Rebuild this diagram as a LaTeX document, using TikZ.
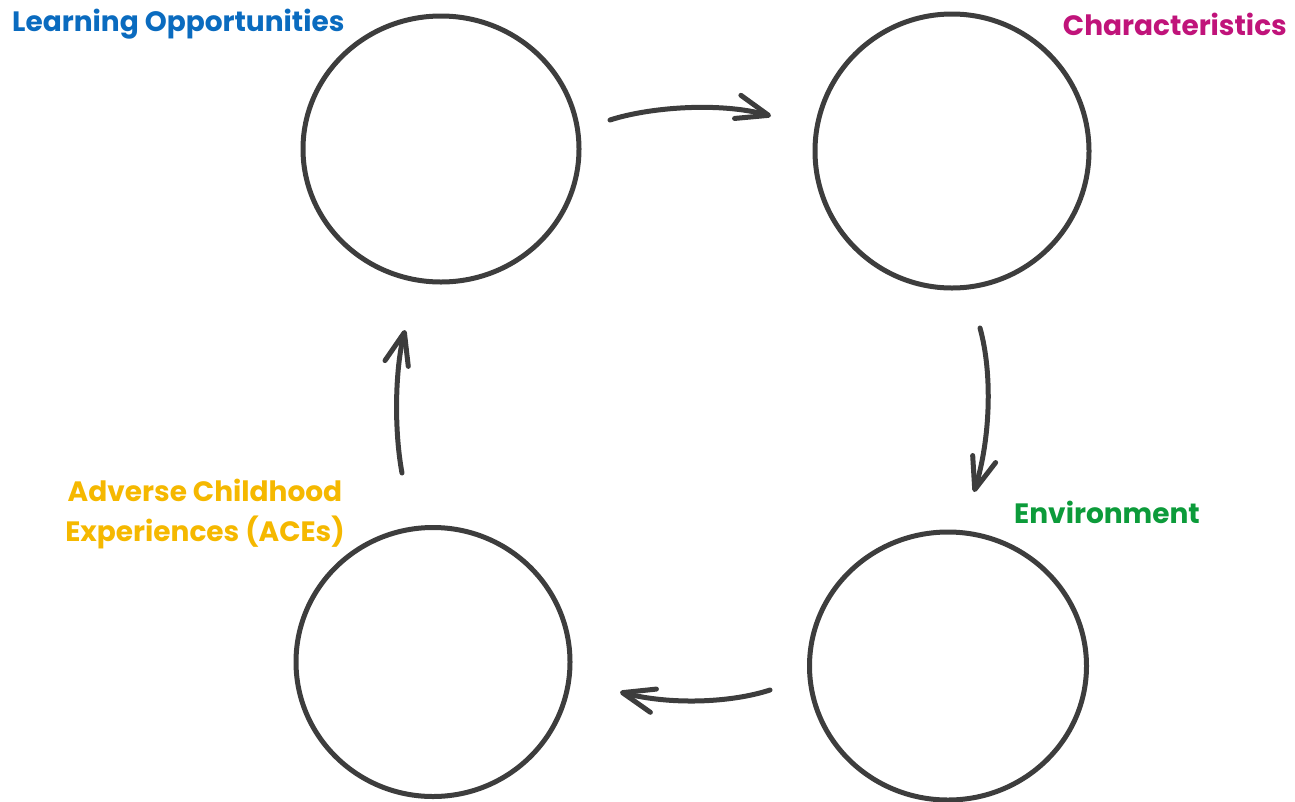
\documentclass[tikz,border=0pt]{standalone}
\usepackage{fontspec}
\setmainfont{Poppins}
\usetikzlibrary{arrows.meta,shapes.geometric}
\definecolor{ink}{HTML}{3D3D3D}
\definecolor{cblue}{HTML}{0A6BBF}
\definecolor{cpink}{HTML}{C0137A}
\definecolor{cyellow}{HTML}{F5B800}
\definecolor{cgreen}{HTML}{0C9B3A}
\tikzset{
  ring/.style={draw=ink, line width=5pt, ellipse, inner sep=0pt},
  flow/.style={draw=ink, line width=5pt, line cap=round,
    -{Straight Barb[length=32pt,width=24pt,round]}},
  lbl/.style={font=\bfseries\fontsize{28}{40}\selectfont, inner sep=0pt, align=center}
}
\begin{document}
\begin{tikzpicture}[x=1pt,y=-1pt]
\useasboundingbox (0,0) rectangle (1295,801);
\node[ring, minimum width=276pt, minimum height=266pt] (lo) at (441,149) {};
\node[ring, minimum width=274pt, minimum height=274pt] (ch) at (952,151) {};
\node[ring, minimum width=277pt, minimum height=268pt] (en) at (948,666) {};
\node[ring, minimum width=274pt, minimum height=269pt] (ac) at (433,662) {};

\node[lbl, text=cblue, anchor=west] (tlo) at (12,24) {Learning Opportunities};
\node[lbl, text=cpink, anchor=east] (tch) at (1287,24) {Characteristics};
\node[lbl, text=cgreen, anchor=west] (ten) at (1014,512) {Environment};
\node[lbl, text=cyellow, anchor=center] (tac) at (205,514) {Adverse Childhood\\Experiences (ACEs)};

\coordinate (a1) at (610,120); \coordinate (b1) at (771,116);
\coordinate (a2) at (980,328); \coordinate (b2) at (974,492);
\coordinate (a3) at (770,690); \coordinate (b3) at (620,692);
\coordinate (a4) at (402,473); \coordinate (b4) at (405,330);

\draw[flow] (a1) .. controls (650,107) and (720,102) .. (b1);
\draw[flow] (a2) .. controls (993,375) and (990,440) .. (b2);
\draw[flow] (a3) .. controls (730,703) and (670,705) .. (b3);
\draw[flow] (a4) .. controls (394,430) and (395,370) .. (b4);
\end{tikzpicture}
\end{document}
